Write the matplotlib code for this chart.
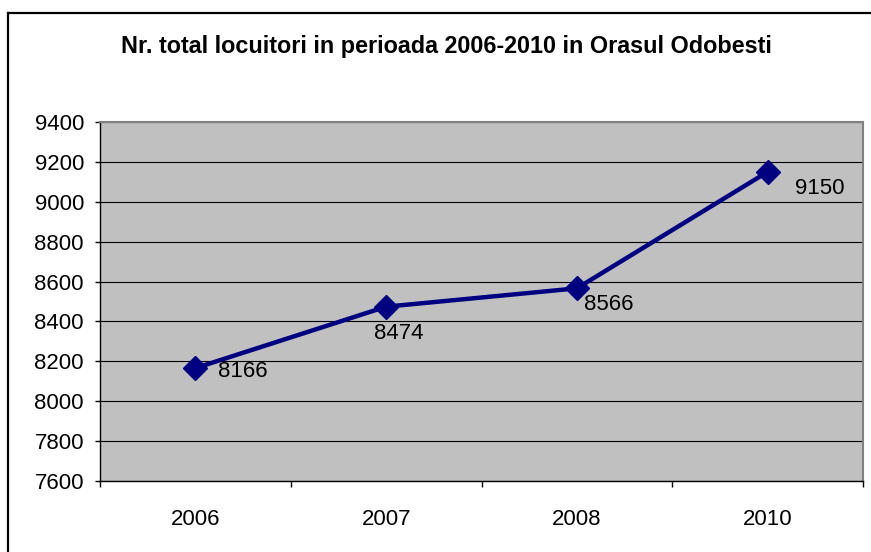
import matplotlib
matplotlib.use("Agg")
import matplotlib.pyplot as plt
from matplotlib.lines import Line2D

# date
ani = ["2006", "2007", "2008", "2010"]
locuitori = [8166, 8474, 8566, 9150]
# deplasari etichete (pixeli)
dx = [23, -12, 7, 27]
dy = [-3, -27, -16, -17]

plt.rcParams['font.family'] = ['Liberation Sans', 'DejaVu Sans']

fig = plt.figure(figsize=(8.71, 5.52), dpi=100)
ax = fig.add_axes([100/871, 1-481/552, (863-100)/871, (481-122)/552])

ax.set_facecolor("#C0C0C0")
x = list(range(len(ani)))
ax.plot(x, locuitori, color="#000080", lw=3.2, marker="D", ms=12, zorder=3)
for i, v in enumerate(locuitori):
    ax.annotate(str(v), (x[i], v), xytext=(dx[i], dy[i]), textcoords="offset pixels",
                ha="left", va="center", fontsize=16)

ax.set_ylim(7600, 9400)
ax.set_yticks(range(7600, 9401, 200))
ax.set_xlim(-0.5, len(ani) - 0.5)
ax.set_xticks(x)
ax.set_xticklabels(ani)
ax.set_xticks([i - 0.5 for i in range(len(ani) + 1)], minor=True)
ax.tick_params(axis="x", which="major", length=0, pad=20, labelsize=16)
ax.tick_params(axis="x", which="minor", length=4.5, width=1, direction="out")
ax.tick_params(axis="y", length=3.6, width=1, direction="out", labelsize=16, pad=8)
ax.grid(axis="y", color="black", lw=0.8)
ax.set_axisbelow(True)
for s in ax.spines.values():
    s.set_color("#808080")
    s.set_linewidth(1.5)
ax.spines["left"].set_color("black")
ax.spines["bottom"].set_color("black")
ax.spines["left"].set_linewidth(1)
ax.spines["bottom"].set_linewidth(1)

fig.text(446/871, 1-46/552, "Nr. total locuitori in perioada 2006-2010 in Orasul Odobesti",
         ha="center", va="center", fontsize=16.8, fontweight="bold")

# chenar
fig.add_artist(Line2D([8/871, 8/871], [0, 1-13/552], color="black", lw=1.6))
fig.add_artist(Line2D([8/871, 1], [1-13/552, 1-13/552], color="black", lw=1.6))

fig.savefig("out.png", dpi=100)
